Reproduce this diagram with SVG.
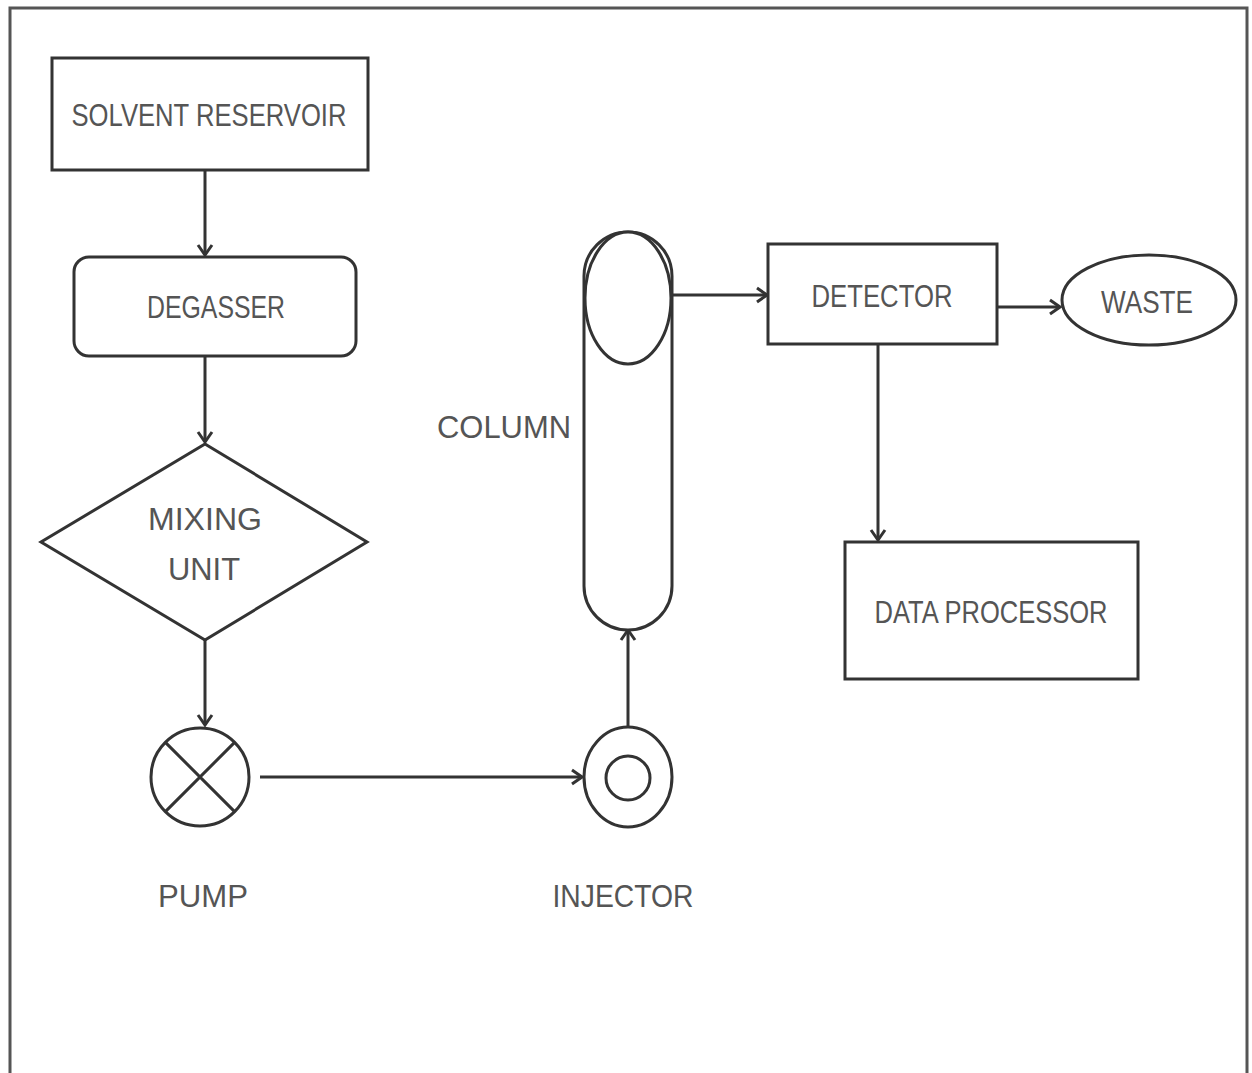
<svg xmlns="http://www.w3.org/2000/svg" width="1252" height="1073" viewBox="0 0 1252 1073">
<style>
.s{fill:#fff;stroke:#333;stroke-width:3}
.c{fill:none;stroke:#333;stroke-width:3}
.t{font-family:"Liberation Sans","Open Sans",sans-serif;font-size:32px;fill:#555;text-anchor:middle}
</style>
<defs>
<marker id="a" markerWidth="14" markerHeight="18" refX="12" refY="9" orient="auto" markerUnits="userSpaceOnUse">
<path d="M2,2 L12,9 L2,16" fill="none" stroke="#333" stroke-width="3"/>
</marker>
</defs>
<rect width="1252" height="1073" fill="#fff"/>
<rect x="10" y="8" width="1237" height="1070" fill="none" stroke="#555" stroke-width="3"/>
<g id="connectors">
<path class="c" d="M205,170 V255" marker-end="url(#a)"/>
<path class="c" d="M205,356 V442" marker-end="url(#a)"/>
<path class="c" d="M205,640 V725" marker-end="url(#a)"/>
<path class="c" d="M260,777 H582" marker-end="url(#a)"/>
<path class="c" d="M628,728 V630" marker-end="url(#a)"/>
<path class="c" d="M672,295 H767" marker-end="url(#a)"/>
<path class="c" d="M997,307 H1060" marker-end="url(#a)"/>
<path class="c" d="M878,344 V540" marker-end="url(#a)"/>
</g>
<g id="solvent-reservoir">
<rect class="s" x="52" y="58" width="316" height="112"/>
<text class="t" x="209" y="126" textLength="275" lengthAdjust="spacingAndGlyphs">SOLVENT RESERVOIR</text>
</g>
<g id="degasser">
<rect class="s" x="74" y="257" width="282" height="99" rx="15"/>
<text class="t" x="216" y="318" textLength="138" lengthAdjust="spacingAndGlyphs">DEGASSER</text>
</g>
<g id="mixing-unit">
<polygon class="s" points="205,444 367,542 205,640 41,542"/>
<text class="t" x="205" y="530" textLength="114" lengthAdjust="spacingAndGlyphs">MIXING</text>
<text class="t" x="204" y="580" textLength="72" lengthAdjust="spacingAndGlyphs">UNIT</text>
</g>
<g id="pump">
<circle class="s" cx="200" cy="777" r="49"/>
<path class="c" d="M165.4,742.4 L234.6,811.6 M234.6,742.4 L165.4,811.6" stroke-width="2.5"/>
<text class="t" x="203" y="907" textLength="90" lengthAdjust="spacingAndGlyphs">PUMP</text>
</g>
<g id="injector">
<ellipse class="s" cx="628" cy="777" rx="44" ry="50"/>
<circle class="s" cx="628" cy="778" r="22"/>
<text class="t" x="623" y="907" textLength="141" lengthAdjust="spacingAndGlyphs">INJECTOR</text>
</g>
<g id="column">
<rect class="s" x="584" y="232" width="88" height="398" rx="44" ry="44"/>
<ellipse class="s" cx="628" cy="298" rx="43" ry="66"/>
<text class="t" x="504" y="438" textLength="134" lengthAdjust="spacingAndGlyphs">COLUMN</text>
</g>
<g id="detector">
<rect class="s" x="768" y="244" width="229" height="100"/>
<text class="t" x="882" y="307" textLength="141" lengthAdjust="spacingAndGlyphs">DETECTOR</text>
</g>
<g id="waste">
<ellipse class="s" cx="1149" cy="300" rx="87" ry="45"/>
<text class="t" x="1147" y="313" textLength="92" lengthAdjust="spacingAndGlyphs">WASTE</text>
</g>
<g id="data-processor">
<rect class="s" x="845" y="542" width="293" height="137"/>
<text class="t" x="991" y="623" textLength="233" lengthAdjust="spacingAndGlyphs">DATA PROCESSOR</text>
</g>
</svg>
